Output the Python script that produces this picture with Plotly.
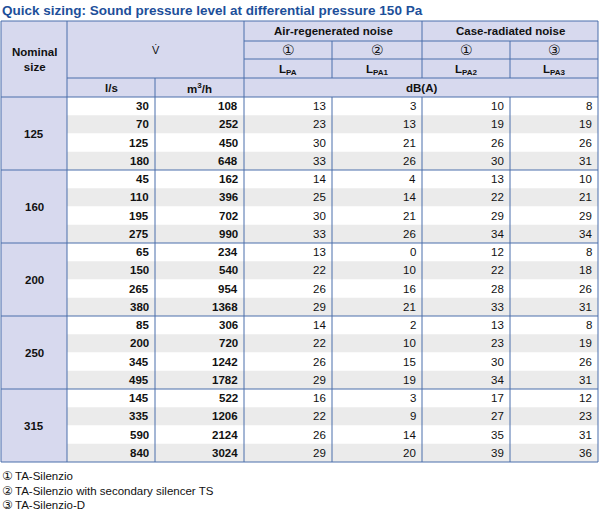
import plotly.graph_objects as go

# ---------------- data ----------------
title = "Quick sizing: Sound pressure level at differential pressure 150 Pa"
nominal_sizes = [125, 160, 200, 250, 315]
flow_ls = [30, 70, 125, 180, 45, 110, 195, 275, 65, 150, 265, 380,
           85, 200, 345, 495, 145, 335, 590, 840]
flow_m3h = [108, 252, 450, 648, 162, 396, 702, 990, 234, 540, 954, 1368,
            306, 720, 1242, 1782, 522, 1206, 2124, 3024]
lpa = [13, 23, 30, 33, 14, 25, 30, 33, 13, 22, 26, 29,
       14, 22, 26, 29, 16, 22, 26, 29]
lpa1 = [3, 13, 21, 26, 4, 14, 21, 26, 0, 10, 16, 21,
        2, 10, 15, 19, 3, 9, 14, 20]
lpa2 = [10, 19, 26, 30, 13, 22, 29, 34, 12, 22, 28, 33,
        13, 23, 30, 34, 17, 27, 35, 39]
lpa3 = [8, 19, 26, 31, 10, 21, 29, 34, 8, 18, 26, 31,
        8, 19, 26, 31, 12, 23, 31, 36]
group_headers = ["Air-regenerated noise", "Case-radiated noise"]
variant_marks = ["①", "②", "①", "③"]
level_labels = ["L<sub>PA</sub>", "L<sub>PA1</sub>", "L<sub>PA2</sub>", "L<sub>PA3</sub>"]
footnote_marks = ["①", "②", "③"]
footnotes = ["TA-Silenzio", "TA-Silenzio with secondary silencer TS", "TA-Silenzio-D"]

# ---------------- layout geometry ----------------
col_edges = [1, 67, 155, 244, 332, 422, 510, 598]
hdr = [21, 41, 59, 78, 97]
row_h = 18.25
rows_per_group = 4
data_top = hdr[-1]
n_rows = len(flow_ls)
data_bottom = data_top + n_rows * row_h

BORDER = "#4a6eab"
HEAD_BG = "#d7d9ee"
GRAY = "#ebebeb"
TITLE_C = "#1d4f9a"
FONT = "Liberation Sans, Arial, DejaVu Sans, sans-serif"
FS = 11

shapes = []
ann = []

def rect(x0, y0, x1, y1, fill):
    shapes.append(dict(type="rect", xref="x", yref="y", x0=x0, x1=x1, y0=y0, y1=y1,
                       fillcolor=fill, line=dict(width=0), layer="below"))

def line(x0, y0, x1, y1):
    shapes.append(dict(type="line", xref="x", yref="y", x0=x0, x1=x1, y0=y0, y1=y1,
                       line=dict(color=BORDER, width=1)))

def text(x, y, s, anchor="center", bold=False, size=FS, color="#111111"):
    if bold:
        s = "<b>" + s + "</b>"
    ann.append(dict(x=x, y=y, xref="x", yref="y", text=s, showarrow=False,
                    xanchor=anchor, yanchor="middle",
                    font=dict(family=FONT, size=size, color=color)))

# backgrounds
rect(col_edges[0], hdr[0], col_edges[-1], data_top, HEAD_BG)
rect(col_edges[0], data_top, col_edges[1], data_bottom, HEAD_BG)
for i in range(n_rows):
    y0 = data_top + i * row_h
    rect(col_edges[1], y0, col_edges[-1], y0 + row_h, "#ffffff" if i % 2 == 0 else GRAY)

# header borders
line(col_edges[0], hdr[0], col_edges[-1], hdr[0])
line(col_edges[3], hdr[1], col_edges[-1], hdr[1])
line(col_edges[3], hdr[2], col_edges[-1], hdr[2])
line(col_edges[1], hdr[3], col_edges[-1], hdr[3])
line(col_edges[0], hdr[4], col_edges[-1], hdr[4])
for x in (col_edges[0], col_edges[1], col_edges[3], col_edges[-1]):
    line(x, hdr[0], x, data_bottom)
line(col_edges[2], hdr[3], col_edges[2], data_bottom)
line(col_edges[5], hdr[0], col_edges[5], hdr[3])
for x in (col_edges[4], col_edges[6]):
    line(x, hdr[1], x, hdr[3])
for x in (col_edges[4], col_edges[5], col_edges[6]):
    line(x, hdr[4], x, data_bottom)
# group borders
for g in range(1, len(nominal_sizes) + 1):
    y = data_top + g * rows_per_group * row_h
    line(col_edges[0], y, col_edges[-1], y)

# header texts
mid = lambda a, b: (a + b) / 2
text(mid(col_edges[0], col_edges[1]), mid(hdr[0], hdr[4]), "Nominal<br>size", bold=True, size=11.5)
text(mid(col_edges[1], col_edges[3]), mid(hdr[0], hdr[3]), "V̇")
text(mid(col_edges[3], col_edges[5]), mid(hdr[0], hdr[1]), group_headers[0], bold=True, size=11.5)
text(mid(col_edges[5], col_edges[7]), mid(hdr[0], hdr[1]), group_headers[1], bold=True, size=11.5)
for k in range(4):
    cx = mid(col_edges[3 + k], col_edges[4 + k])
    text(cx, mid(hdr[1], hdr[2]), variant_marks[k], size=14)
    text(cx, mid(hdr[2], hdr[3]) + 1, level_labels[k], size=11.5, bold=True)
text(mid(col_edges[1], col_edges[2]), mid(hdr[3], hdr[4]), "l/s", bold=True, size=11.5)
text(mid(col_edges[2], col_edges[3]), mid(hdr[3], hdr[4]), "m<sup>3</sup>/h", bold=True, size=11.5)
text(mid(col_edges[3], col_edges[7]), mid(hdr[3], hdr[4]), "dB(A)", bold=True, size=11.5)

# nominal sizes
for g, s in enumerate(nominal_sizes):
    y0 = data_top + g * rows_per_group * row_h
    text(mid(col_edges[0], col_edges[1]), y0 + rows_per_group * row_h / 2, str(s), bold=True, size=11.5)

# data cells
cols = [flow_ls, flow_m3h, lpa, lpa1, lpa2, lpa3]
for i in range(n_rows):
    yc = data_top + (i + 0.5) * row_h
    for c, series in enumerate(cols):
        text(col_edges[c + 2] - 4, yc, str(series[i]), anchor="right", bold=(c < 2), size=11.5)

# title
text(0, 10, title, anchor="left", bold=True, size=13.5, color=TITLE_C)

# footnotes
for k, f in enumerate(footnotes):
    yk = 476 + k * 14.5
    text(0, yk, footnote_marks[k], anchor="left", size=12)
    text(13, yk, f, anchor="left", size=11.5)

fig = go.Figure()
fig.add_trace(go.Scatter(x=[0, 600], y=[0, 515], mode="markers",
                         marker=dict(opacity=0), hoverinfo="skip", showlegend=False))
fig.update_layout(
    width=600, height=515, margin=dict(l=0, r=0, t=0, b=0),
    paper_bgcolor="white", plot_bgcolor="white",
    xaxis=dict(range=[0, 600], visible=False, fixedrange=True),
    yaxis=dict(range=[515, 0], visible=False, fixedrange=True),
    shapes=shapes, annotations=ann, showlegend=False,
)
fig.write_html("out.html", config={"displayModeBar": False},
               post_script="document.body.style.margin='0';document.body.style.overflow='hidden';")
